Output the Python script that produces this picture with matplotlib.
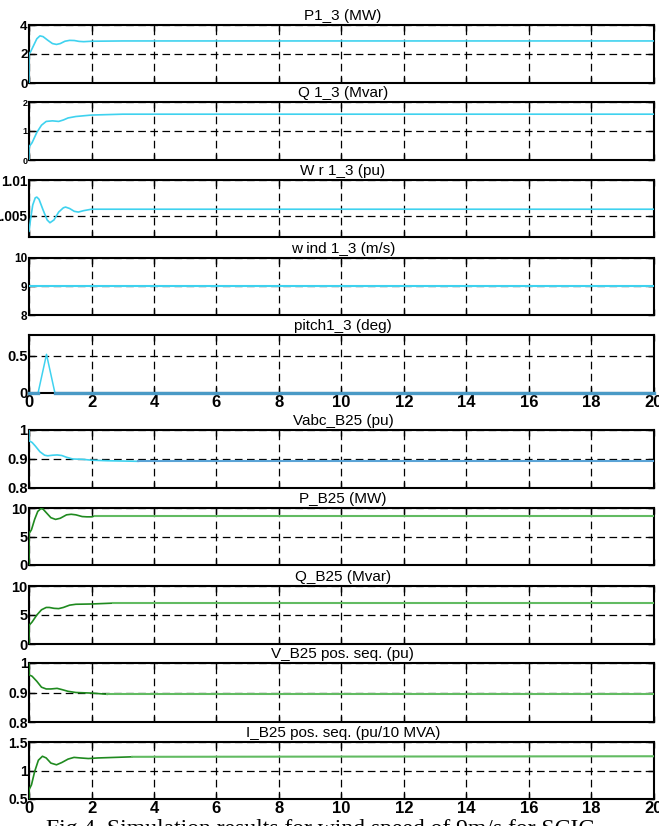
import matplotlib
matplotlib.use("Agg")
import matplotlib.pyplot as plt
import numpy as np

plt.rcParams["font.family"] = ["Liberation Sans", "DejaVu Sans"]
plt.rcParams["lines.scale_dashes"] = False

# ---- data (time in s) ----
p13_t = [0, 0, 0.05, 0.15, 0.25, 0.35, 0.45, 0.6, 0.75, 0.88, 1.0, 1.15, 1.3, 1.45, 1.6, 1.75, 2.0, 3.0, 20]
p13_v = [0, 2.0, 2.15, 2.6, 3.05, 3.25, 3.2, 2.95, 2.72, 2.66, 2.72, 2.88, 2.94, 2.93, 2.87, 2.85, 2.88, 2.9, 2.9]

q13_t = [0, 0, 0.1, 0.25, 0.4, 0.55, 0.75, 0.95, 1.1, 1.25, 1.5, 2.0, 3.0, 20]
q13_v = [0, 0.45, 0.6, 0.95, 1.2, 1.33, 1.35, 1.33, 1.38, 1.45, 1.5, 1.55, 1.58, 1.58]

wr_t = [0, 0.05, 0.12, 0.2, 0.25, 0.32, 0.45, 0.58, 0.67, 0.8, 0.95, 1.1, 1.17, 1.3, 1.45, 1.58, 1.75, 2.0, 3.0, 20]
wr_v = [1.0028, 1.0045, 1.0065, 1.0075, 1.0076, 1.0073, 1.0058, 1.0044, 1.0040, 1.0044, 1.0055, 1.0061,
        1.0062, 1.0060, 1.0056, 1.0055, 1.0057, 1.0059, 1.0059, 1.0059]

wind_t = [0, 20]
wind_v = [9, 9]

pitch_t = [0, 0.29, 0.56, 0.83, 20]
pitch_v = [0, 0, 0.52, 0, 0]

vabc_t = [0, 0, 0.1, 0.2, 0.35, 0.5, 0.6, 0.75, 0.9, 1.05, 1.2, 1.4, 1.7, 2.0, 2.5, 3.5, 20]
vabc_v = [1.0, 0.963, 0.957, 0.945, 0.925, 0.913, 0.911, 0.913, 0.914, 0.912, 0.906, 0.9, 0.899,
          0.896, 0.894, 0.892, 0.892]

pb_t = [0, 0, 0.08, 0.18, 0.28, 0.38, 0.45, 0.55, 0.7, 0.85, 1.0, 1.2, 1.35, 1.5, 1.7, 1.85, 2.0, 2.1, 20]
pb_v = [0, 5.5, 6.2, 8.0, 9.4, 9.9, 9.8, 9.2, 8.3, 8.0, 8.2, 8.8, 8.9, 8.8, 8.5, 8.45, 8.45, 8.6, 8.6]

qb_t = [0, 0, 0.1, 0.25, 0.4, 0.55, 0.65, 0.8, 0.95, 1.1, 1.3, 1.5, 2.0, 2.7, 20]
qb_v = [0, 3.2, 3.8, 5.0, 5.9, 6.3, 6.3, 6.15, 6.1, 6.3, 6.7, 6.85, 6.9, 7.05, 7.05]

vb_t = [0, 0, 0.1, 0.25, 0.4, 0.55, 0.7, 0.9, 1.05, 1.25, 1.5, 2.0, 2.5, 20]
vb_v = [1.0, 0.96, 0.955, 0.938, 0.918, 0.912, 0.912, 0.914, 0.91, 0.904, 0.9, 0.898, 0.894, 0.894]

ib_t = [0, 0, 0.08, 0.18, 0.3, 0.43, 0.55, 0.7, 0.88, 1.05, 1.25, 1.44, 1.65, 1.9, 2.2, 3.3, 20]
ib_v = [0.5, 0.66, 0.75, 0.98, 1.18, 1.25, 1.22, 1.13, 1.1, 1.14, 1.2, 1.23, 1.22, 1.21, 1.22, 1.24, 1.25]

titles = ["P1_3 (MW)", "Q 1_3 (Mvar)", "W r 1_3 (pu)", "w ind 1_3 (m/s)", "pitch1_3 (deg)",
          "Vabc_B25 (pu)", "P_B25 (MW)", "Q_B25 (Mvar)", "V_B25 pos. seq. (pu)",
          "I_B25 pos. seq. (pu/10 MVA)"]
ylims = [(0, 4), (0, 2), (1.002, 1.01), (8, 10), (0, 0.78),
         (0.8, 1.0), (0, 10), (0, 10), (0.8, 1.0), (0.5, 1.5)]
yticks = [[0, 2, 4], [0, 1, 2], [1.005, 1.01], [8, 9, 10], [0, 0.5],
          [0.8, 0.9, 1.0], [0, 5, 10], [0, 5, 10], [0.8, 0.9, 1.0], [0.5, 1.0, 1.5]]
yticklabels = [["0", "2", "4"], ["0", "1", "2"], ["1.005", "1.01"], ["8", "9", "10"], ["0", "0.5"],
               ["0.8", "0.9", "1"], ["0", "5", "10"], ["0", "5", "10"], ["0.8", "0.9", "1"],
               ["0.5", "1", "1.5"]]
xticks = np.arange(0, 21, 2)

CYAN = "#3fd2ef"
BLUE = "#5aa3d6"
STEEL = "#4a9ac6"
DKGREEN = "#1f8a1f"
LTGREEN = "#62bb62"

# pixel layout of the 10 axes (top, bottom) in a 659x826 canvas
W, H = 659, 826
rows = [(25, 83), (102, 160), (180, 237), (258, 315), (335, 393),
        (430, 488), (508, 565), (586, 644), (663, 722), (742, 799)]
left, right = 29, 654
ylab_size = [9.5, 6.5, 9.8, 8.5, 10.5, 10.5, 10.5, 10.5, 10, 10]

fig = plt.figure(figsize=(W / 100, H / 100), dpi=100)
axes = []
for i, (top, bot) in enumerate(rows):
    ax = fig.add_axes([left / W, 1 - bot / H, (right - left) / W, (bot - top) / H])
    ax.set_xlim(0, 20)
    ax.set_ylim(*ylims[i])
    ax.set_xticks(xticks)
    ax.set_yticks(yticks[i])
    ax.set_yticklabels(yticklabels[i], fontsize=ylab_size[i], fontweight="bold")
    if i in (4, 9):
        ax.set_xticklabels([str(x) for x in xticks], fontsize=12, fontweight="bold")
    else:
        ax.set_xticklabels([])
    ax.tick_params(direction="in", length=4, width=1, top=True, right=True, pad=1.5)
    ax.tick_params(axis="y", pad=1)
    ax.grid(True, color="black", lw=0.9, linestyle=(0, (5.5, 3.2)))
    for s in ax.spines.values():
        s.set_linewidth(1.5)
        s.set_zorder(2.5)
    ax.annotate(titles[i], xy=(0.5, 1.0), xycoords="axes fraction", xytext=(1, 1.5),
                textcoords="offset points", ha="center", va="bottom", fontsize=11)
    axes.append(ax)

axes[0].plot(p13_t, p13_v, color=CYAN, lw=1.2, zorder=3)
axes[1].plot(q13_t, q13_v, color=CYAN, lw=1.2, zorder=3)
axes[2].plot(wr_t, wr_v, color=CYAN, lw=1.2, zorder=3)
axes[3].plot(wind_t, wind_v, color=CYAN, lw=1.5, zorder=3)

pt = np.array(pitch_t)
pv = np.array(pitch_v)
axes[4].plot(pt, np.ma.masked_where(pv != 0, pv), color=STEEL, lw=2.4, zorder=4, clip_on=False)
axes[4].plot(pt, pv, color=CYAN, lw=1.1, zorder=3)


def two_tone(ax, t, v, split, c1, c2, lw=1.2):
    t = np.array(t)
    v = np.array(v)
    a = t <= split
    b = t >= split
    ax.plot(t[a], v[a], color=c1, lw=lw, zorder=3)
    ax.plot(t[b], v[b], color=c2, lw=lw + 0.3, zorder=3)


two_tone(axes[5], vabc_t, vabc_v, 3.5, CYAN, BLUE)
two_tone(axes[6], pb_t, pb_v, 2.1, DKGREEN, LTGREEN)
two_tone(axes[7], qb_t, qb_v, 2.7, DKGREEN, LTGREEN)
two_tone(axes[8], vb_t, vb_v, 2.5, DKGREEN, LTGREEN)
two_tone(axes[9], ib_t, ib_v, 3.3, DKGREEN, LTGREEN)

fig.text(0.486, 1 - 818.5 / H, "Fig.4. Simulation results for wind speed of 9m/s for SCIG",
         ha="center", va="top", fontsize=17, family=["Liberation Serif", "DejaVu Serif"])

fig.savefig("out.png", dpi=100)
